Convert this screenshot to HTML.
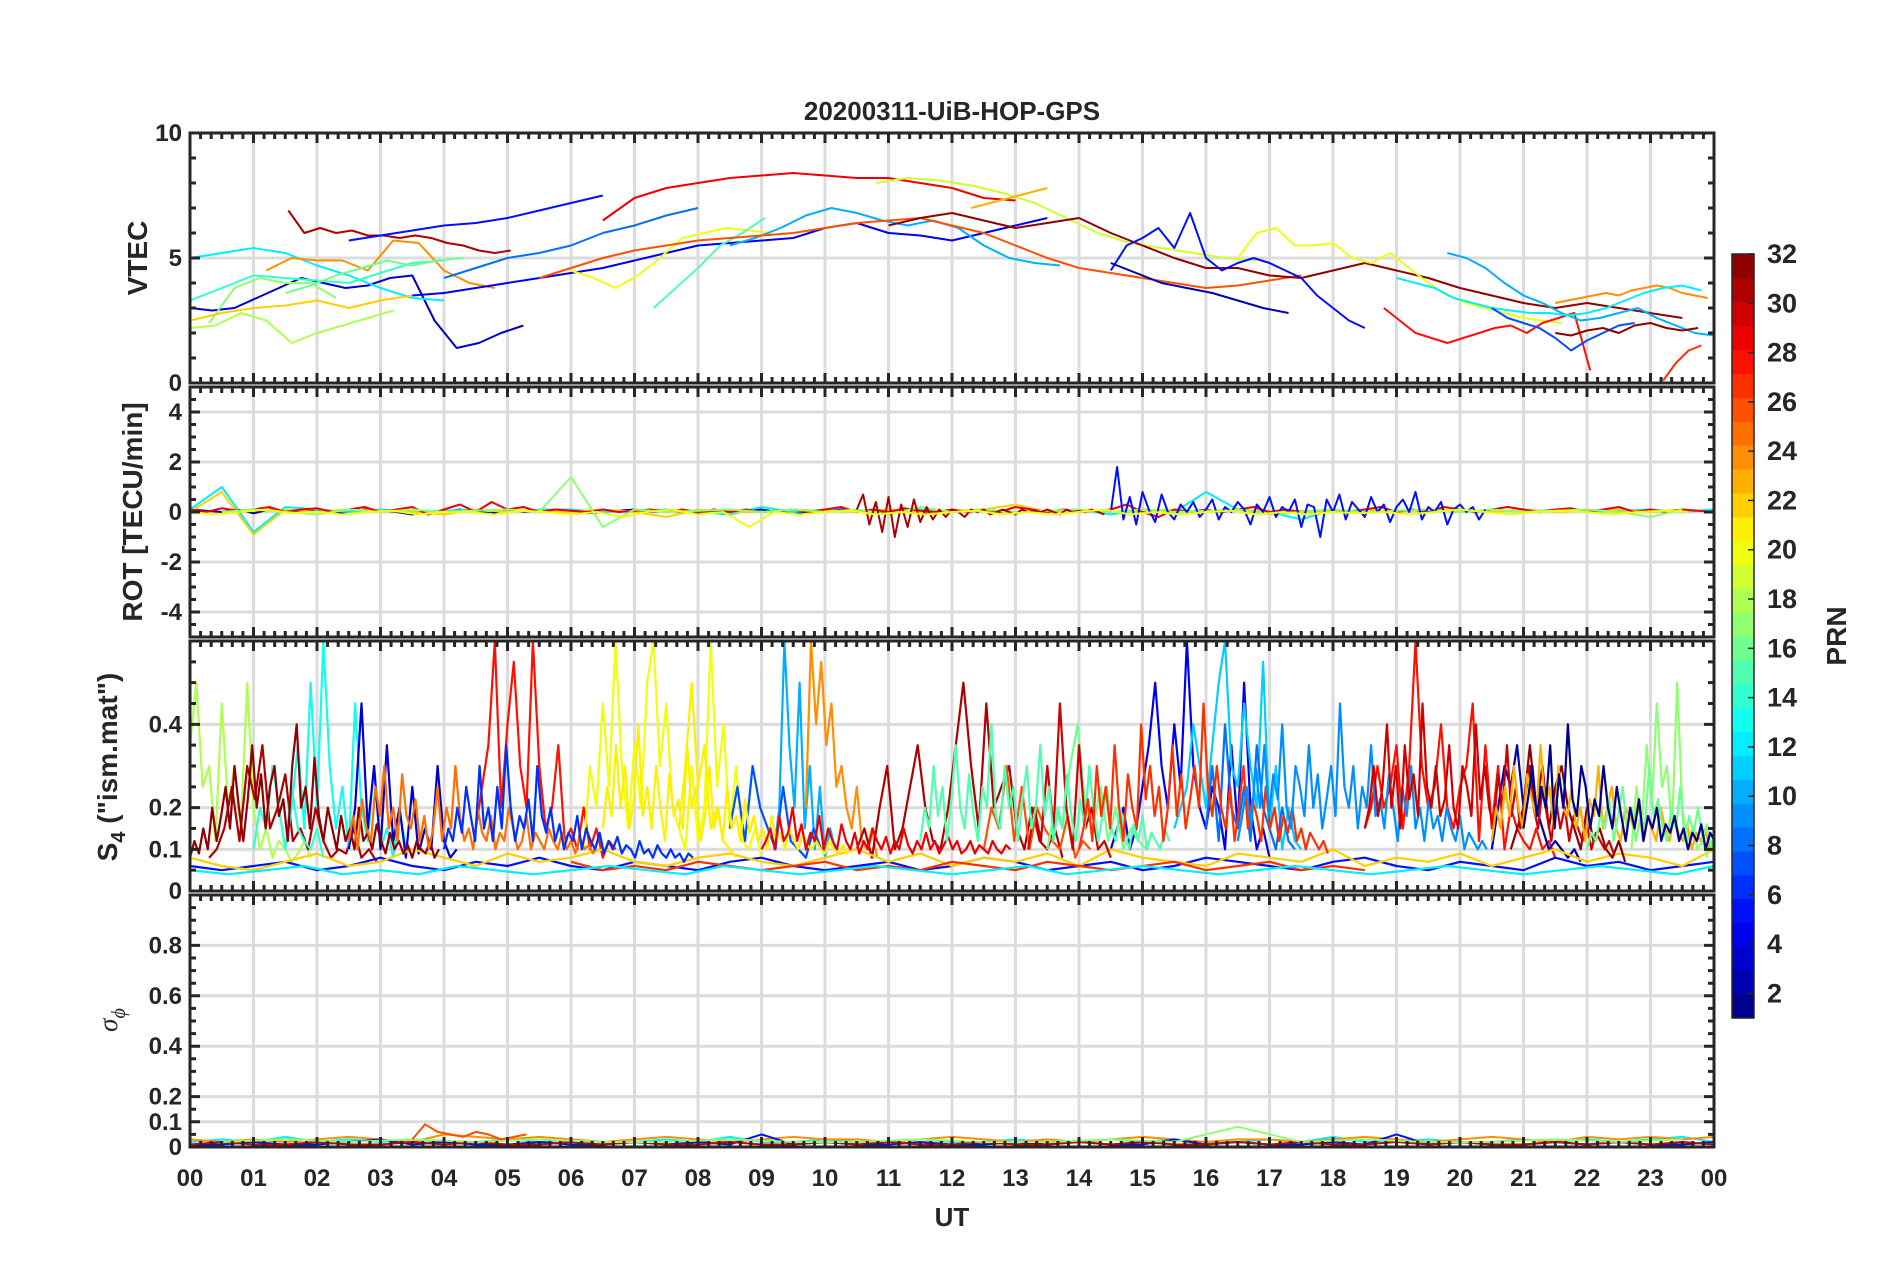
<!DOCTYPE html>
<html><head><meta charset="utf-8"><style>
body{margin:0;background:#fff}
svg{display:block;font-family:"Liberation Sans",sans-serif}
</style></head><body>
<svg id="fig" width="1902" height="1272" viewBox="0 0 1902 1272">
<text x="952" y="120" text-anchor="middle" font-size="26" font-weight="bold" fill="#262626">20200311-UiB-HOP-GPS</text>
<g id="panels"></g>
<g id="cbar"></g>
<text x="952" y="1226" text-anchor="middle" font-size="26" font-weight="bold" fill="#262626">UT</text>
<text transform="translate(147,258) rotate(-90)" text-anchor="middle" font-size="28" font-weight="bold" fill="#262626">VTEC</text>
<text transform="translate(142,512) rotate(-90)" text-anchor="middle" font-size="28" font-weight="bold" fill="#262626">ROT [TECU/min]</text>
<text transform="translate(117,767) rotate(-90)" text-anchor="middle" font-size="28" font-weight="bold" fill="#262626">S<tspan font-size="20" dy="8">4</tspan><tspan dy="-8"> ("ism.mat")</tspan></text>
<text transform="translate(117,1020) rotate(-90)" text-anchor="middle" font-size="27" font-style="italic" fill="#262626" font-family="Liberation Serif, serif">σ<tspan font-size="20" dy="8">ϕ</tspan></text>
<text transform="translate(1846,636) rotate(-90)" text-anchor="middle" font-size="28" font-weight="bold" fill="#262626">PRN</text>
</svg>
<script>
// ---- data (PRN, start hour, step hours, values) ----
const vtecPrn=[31,5,29,19,23,3,12,14,17,22,18,24,8,4,20,15,10,26,32,5,20,28,10,24,12,7,27,32,2,16];
const vtecT0=[1.55,2.5,6.5,10.8,12.3,0,0,0,0.3,0,0,1.2,4.0,3.5,6.0,7.3,8.5,5.5,11.0,14.5,16.5,18.8,19.8,21.5,19.0,20.5,23.2,21.5,14.5,1.5];
const vtecStep=[0.25,0.5,0.5,0.5,0.3,0.35,0.5,0.5,0.4,0.5,0.4,0.4,0.5,0.5,0.35,0.35,0.4,0.5,0.5,0.25,0.3,0.25,0.3,0.2,0.3,0.25,0.2,0.25,0.4,0.4];
const vtecVals=[
[6.9,6.0,6.2,6.0,6.1,5.9,5.9,5.8,5.9,5.8,5.6,5.5,5.3,5.2,5.3],
[5.7,5.9,6.1,6.3,6.4,6.6,6.9,7.2,7.5],
[6.5,7.4,7.8,8.0,8.2,8.3,8.4,8.3,8.2,8.2,8.0,7.8,7.4,7.3],
[8.0,8.2,8.1,7.9,7.6,7.2,6.6,6.0,5.6,5.4,5.2,5.0,4.9],
[7.0,7.2,7.4,7.6,7.8],
[3.0,2.9,3.0,3.4,3.8,4.2,4.0,3.8,3.9,4.2,4.3,2.5,1.4,1.6,2.0,2.3],
[5.0,5.2,5.4,5.2,4.7,4.3,3.8,3.4,3.3],
[3.3,3.8,4.3,4.2,4.1,4.0,4.4,4.8,4.9],
[2.4,3.8,4.2,4.0,4.0,3.4],
[2.5,2.8,3.0,3.1,3.3,3.0,3.3,3.5],
[2.2,2.3,2.8,2.5,1.6,2.0,2.3,2.6,2.9],
[4.5,5.0,4.9,4.9,4.5,5.7,5.6,4.5,4.0,3.8],
[4.2,4.6,5.0,5.2,5.5,6.0,6.3,6.7,7.0],
[3.5,3.6,3.8,4.0,4.2,4.4,4.6,4.9,5.2,5.5,5.6,5.7,5.8,6.2,6.4,6.0,5.9,5.7,6.0,6.3,6.6],
[4.5,4.2,3.8,4.3,5.0,5.8,6.0,6.2,6.1,6.0],
[3.0,3.8,4.6,5.5,6.0,6.6],
[5.5,5.8,6.2,6.7,7.0,6.8,6.5,6.3,6.5,6.2,5.5,5.0,4.8,4.7],
[4.2,4.6,5.0,5.3,5.5,5.7,5.8,5.9,6.0,6.2,6.4,6.5,6.6,6.3,6.0,5.5,5.0,4.6,4.4,4.2,4.0,3.8,3.9,4.1,4.3],
[6.3,6.6,6.8,6.5,6.2,6.4,6.6,6.0,5.5,5.0,4.6,4.6,4.3,4.2,4.5,4.8,4.5,4.2,3.8,3.5,3.2,3.0,3.2,3.0,2.8,2.6],
[4.5,5.5,5.8,6.2,5.4,6.8,5.0,4.5,4.8,5.0,4.8,4.5,4.2,3.5,3.0,2.5,2.2],
[5.0,6.0,6.2,5.5,5.5,5.6,5.0,4.8,5.2,4.6,4.0,3.5,3.2,3.0,2.8,2.6,2.5,2.4],
[3.0,2.5,2.0,1.8,1.6,1.8,2.0,2.2,2.3,2.0,2.4,2.6,2.8,0.5],
[5.2,5.0,4.6,4.0,3.5,3.2,2.8,2.5,2.6,2.8,3.0,2.6,2.3,2.0,1.9,1.8,2.2],
[3.2,3.3,3.4,3.5,3.6,3.5,3.7,3.8,3.9,3.8,3.6,3.5,3.4],
[4.2,4.0,3.8,3.4,3.2,3.0,2.9,2.8,2.8,2.7,2.8,3.0,3.3,3.6,3.8,3.9,3.7],
[3.0,2.6,2.4,2.2,1.8,1.3,1.7,2.0,2.3,2.4],
[0.1,0.8,1.3,1.5],
[2.0,1.9,2.1,2.2,2.0,2.3,2.4,2.2,2.1,2.2],
[4.8,4.4,4.0,3.8,3.6,3.3,3.0,2.8],
[3.6,3.9,4.3,4.6,4.9,4.7,4.9,5.0]
];
const rotPrn=[2,12,22,29,17,31,5,20];
const rotT0=[0,0,0,0,0.5,10.5,14.5,0];
const rotStep=[0.25,0.5,0.5,0.25,0.5,0.1,0.1,0.4];
const rotVals=[
[0.1,0.05,0.0,0.1,-0.05,0.1,0.0,0.05,0.1,-0.05,0.0,0.1,0.05,0.0,-0.1,0.05,0.0,0.1,0.0,-0.05,0.1,0.0,0.05,0.0,0.1,-0.05,0.0,0.05,0.1,0.0,0.05,0.0,-0.05,0.1,0.0,0.05,0.1,0.0,-0.05,0.0,0.05,0.1,0.0,0.05,0.0,0.1,-0.05,0.05,0.0],
[0.1,1.0,-0.8,0.2,0.1,0.0,0.1,0.0,0.05,0.1,0.0,0.1,0.1,0.0,0.05,0.1,0.0,-0.1,0.2,0.0,0.1,0.0,0.05,0.1,0.0,0.1,0.0,0.05,0.1,-0.1,0.1,0.0,0.8,0.1,0.0,-0.3,0.1,0.0,0.05,0.1,0.0,0.1,0.0,0.1,0.0,0.05,0.1,0.0,0.1],
[0.0,0.8,-0.9,0.1,0.0,0.1,0.05,0.0,-0.1,0.1,0.0,0.05,0.0,0.1,0.0,-0.2,0.1,0.0,0.0,0.1,0.05,0.0,0.1,0.0,0.05,0.1,0.3,0.0,0.1,0.0,0.05,0.1,0.0,0.1,0.0,0.05,0.0,0.1,0.0,0.1,0.05,0.0,0.1,0.0,0.05,0.1,0.0,0.1,0.0],
[0.1,0.0,0.15,0.05,0.1,0.2,0.0,0.1,0.15,0.0,0.1,0.2,0.0,0.1,0.2,-0.1,0.1,0.3,0.0,0.4,0.1,0.2,0.0,0.1,0.05,0.0,0.1,0.0,0.05,0.1,0.0,0.1,0.0,0.05,0.0,0.1,0.0,0.05,0.1,0.0,0.1,0.2,0.0,0.1,0.0,0.15,0.05,0.0,0.1,0.0,0.1,0.0,0.2,0.1,0.0,0.1,0.0,0.05,0.1,0.3,0.0,-0.2,0.1,0.0,0.1,0.0,0.1,0.2,0.0,0.1,0.0,0.05,0.1,0.0,0.1,0.2,0.0,0.1,0.0,0.2,0.1,0.0,0.1,0.2,0.1,0.0,0.1,0.15,0.0,0.1,0.2,0.0,0.1,0.0,0.1,0.05,0.0],
[0.0,0.1,0.0,-0.1,0.1,0.0,0.1,0.0,0.05,0.1,0.0,1.4,-0.6,0.1,0.0,0.05,0.1,0.0,0.1,0.0,0.1,-0.1,0.2,0.0,0.1,0.0,0.05,0.1,0.0,0.1,0.0,0.05,0.1,-0.1,0.0,0.1,0.0,0.05,0.1,0.0,0.1,0.0,0.05,0.1,0.0,-0.2,0.1],
[0.1,0.7,-0.5,0.4,-0.8,0.6,-1.0,0.3,-0.6,0.5,-0.4,0.2,-0.3,0.1,-0.2,0.1,0.0,-0.2,0.1,0.0,0.1,-0.1,0.0,0.1,0.0,-0.1,0.1,0.0,0.05,0.0,0.1,0.0,-0.1,0.1,0.0,0.05,0.0,0.1,0.0,-0.1],
[0.0,1.8,-0.3,0.6,-0.5,0.8,0.1,-0.4,0.7,0.0,-0.3,0.3,0.0,0.4,-0.2,0.1,0.5,-0.3,0.2,0.0,0.4,0.1,-0.5,0.3,0.0,0.6,-0.2,0.2,0.0,0.5,-0.6,0.3,0.2,-1.0,0.5,0.0,0.7,-0.3,0.4,0.1,-0.2,0.6,0.0,0.3,-0.4,0.2,0.5,0.0,0.8,-0.3,0.2,0.0,0.4,-0.5,0.1,0.3,0.0,0.2,-0.3,0.1],
[0.0,-0.1,0.0,0.1,-0.05,0.0,-0.1,0.0,0.05,-0.1,0.0,0.0,-0.1,0.05,0.0,-0.1,0.0,-0.2,0.0,0.1,-0.1,0.0,-0.6,0.0,-0.1,0.0,0.05,-0.1,0.0,-0.1,0.0,0.05,-0.1,0.0,-0.1,0.0,0.1,-0.1,0.0,-0.1,0.0,0.05,-0.1,0.0,-0.1,0.0,-0.05,0.0,-0.1,0.0,0.1,0.0,-0.1,0.0,0.05,0.0,-0.1,0.0,0.05,0.0]
];
const s4Prn=[18,31,13,3,28,20,10,24,31,4,11,28,2,5,22,27,12,26,7,16,32,30,8,17,21,14, 32,25,6,21,29,15,27,9,30,23,16,1];
const s4T0=[0,0.3,1.5,2.5,4.5,6.2,9.2,9.7,10.5,14.5,15.5,18.5,20.5,0,0,6,0,12.5,8.5,13.5,20.8,13.2,16.0,22.7,7.7,1.0, 0,2.5,4.0,6.5,9.0,11.5,14.0,16.5,18.5,20.5,22.0,21.0];
const s4Step=[0.1,0.12,0.1,0.1,0.1,0.1,0.08,0.08,0.12,0.1,0.1,0.1,0.1,0.5,0.5,0.5,0.6,0.12,0.12,0.12,0.1,0.1,0.1,0.08,0.1,0.1, 0.07,0.07,0.07,0.07,0.07,0.07,0.07,0.07,0.07,0.07,0.07,0.07];
const s4Vals=[
[0.35,0.5,0.25,0.3,0.12,0.45,0.2,0.3,0.15,0.5,0.2,0.1,0.15,0.08,0.12,0.1,0.07,0.09,0.12,0.08],
[0.08,0.1,0.15,0.25,0.12,0.3,0.22,0.35,0.15,0.2,0.28,0.12,0.15,0.1,0.2,0.12,0.08,0.1,0.09,0.15,0.08,0.1,0.07],
[0.1,0.2,0.35,0.15,0.5,0.2,0.6,0.3,0.15,0.25,0.1,0.45,0.2,0.12,0.3,0.1,0.15,0.08,0.2,0.1],
[0.1,0.2,0.45,0.15,0.3,0.1,0.35,0.12,0.2,0.08,0.25,0.09,0.15,0.1,0.3,0.12,0.08,0.1],
[0.15,0.25,0.35,0.6,0.2,0.4,0.55,0.3,0.2,0.6,0.3,0.15,0.2,0.35,0.12,0.15,0.1,0.2,0.1,0.15,0.08,0.12,0.1],
[0.1,0.3,0.2,0.45,0.25,0.6,0.3,0.15,0.35,0.2,0.5,0.6,0.3,0.45,0.2,0.15,0.1,0.3,0.12,0.2,0.6,0.25,0.4,0.15,0.3,0.12,0.1,0.15,0.08],
[0.1,0.2,0.6,0.35,0.2,0.5,0.15,0.3,0.1,0.25,0.08,0.15,0.1],
[0.2,0.6,0.4,0.55,0.35,0.45,0.25,0.3,0.2,0.15,0.25,0.12,0.1,0.15,0.08],
[0.1,0.15,0.08,0.2,0.3,0.1,0.15,0.25,0.35,0.2,0.12,0.1,0.2,0.35,0.5,0.3,0.15,0.45,0.2,0.25,0.3,0.15,0.1,0.2,0.12,0.1,0.15,0.08],
[0.1,0.15,0.2,0.1,0.15,0.25,0.35,0.5,0.3,0.2,0.4,0.25,0.6,0.3,0.2,0.15,0.25,0.2,0.1,0.35,0.15,0.5,0.2,0.1,0.15,0.08],
[0.15,0.2,0.25,0.4,0.3,0.2,0.35,0.5,0.6,0.3,0.25,0.45,0.3,0.2,0.55,0.15,0.3,0.1,0.2,0.12,0.1],
[0.15,0.2,0.3,0.2,0.25,0.35,0.15,0.3,0.6,0.3,0.2,0.25,0.4,0.2,0.15,0.25,0.3,0.45,0.12,0.35,0.15,0.3,0.1,0.2,0.15,0.12,0.1,0.15,0.1,0.12,0.08],
[0.1,0.2,0.3,0.25,0.35,0.2,0.3,0.2,0.15,0.1,0.12,0.1,0.08,0.1,0.07],
[0.06,0.05,0.06,0.07,0.05,0.06,0.08,0.06,0.05,0.07,0.06,0.08,0.06,0.05,0.07,0.06,0.05,0.07,0.08,0.06,0.05,0.06,0.07,0.05,0.06,0.08,0.07,0.05,0.06,0.07,0.05,0.06,0.08,0.07,0.06,0.05,0.07,0.08,0.06,0.05,0.07,0.06,0.05,0.08,0.06,0.07,0.05,0.06,0.07],
[0.08,0.06,0.05,0.07,0.09,0.06,0.07,0.1,0.08,0.06,0.09,0.07,0.08,0.1,0.07,0.06,0.08,0.09,0.07,0.06,0.08,0.1,0.07,0.09,0.06,0.08,0.07,0.09,0.06,0.1,0.08,0.07,0.06,0.09,0.08,0.07,0.1,0.06,0.08,0.07,0.09,0.06,0.08,0.1,0.07,0.09,0.08,0.06,0.1],
[0.07,0.05,0.06,0.05,0.07,0.06,0.05,0.06,0.07,0.05,0.06,0.05,0.07,0.06,0.05,0.07,0.06,0.05,0.06,0.07,0.05,0.06,0.07,0.05,0.06,0.05],
[0.05,0.04,0.05,0.06,0.04,0.05,0.04,0.06,0.05,0.04,0.05,0.06,0.05,0.04,0.06,0.05,0.04,0.05,0.06,0.05,0.04,0.05,0.06,0.04,0.05,0.06,0.05,0.04,0.05,0.06,0.05,0.04,0.05,0.06,0.05,0.04,0.05,0.06,0.05,0.04,0.06],
[0.1,0.2,0.15,0.3,0.12,0.25,0.1,0.2,0.15,0.12,0.1,0.18,0.08,0.12,0.1],
[0.15,0.25,0.12,0.3,0.2,0.15,0.1,0.25,0.12,0.1,0.08,0.15,0.1],
[0.1,0.2,0.15,0.3,0.4,0.2,0.15,0.25,0.12,0.2,0.1,0.15,0.12,0.1],
[0.1,0.15,0.2,0.35,0.2,0.3,0.15,0.25,0.3,0.2,0.15,0.1,0.2,0.12,0.15,0.1,0.08,0.12,0.07],
[0.1,0.2,0.12,0.3,0.15,0.45,0.2,0.1,0.35,0.15,0.2,0.1,0.12,0.08],
[0.15,0.3,0.12,0.4,0.2,0.15,0.25,0.12,0.35,0.2,0.15,0.1,0.2,0.12,0.1],
[0.1,0.25,0.15,0.35,0.2,0.45,0.25,0.3,0.15,0.5,0.2,0.12,0.15,0.1,0.12,0.08],
[0.15,0.3,0.5,0.25,0.35,0.15,0.2,0.12,0.1,0.08],
[0.1,0.2,0.15,0.3,0.2,0.1,0.25,0.15,0.12,0.1,0.15,0.08],
[0.08,0.12,0.09,0.15,0.1,0.2,0.12,0.18,0.25,0.15,0.3,0.2,0.12,0.22,0.35,0.2,0.28,0.15,0.25,0.3,0.18,0.22,0.12,0.3,0.4,0.2,0.25,0.15,0.32,0.18,0.12,0.2,0.15,0.1,0.18,0.12,0.15,0.1,0.2,0.12,0.14,0.1,0.16,0.12,0.09,0.14,0.1,0.12,0.09,0.11,0.08,0.12,0.1,0.09,0.12,0.08,0.1],
[0.12,0.18,0.1,0.22,0.15,0.12,0.25,0.18,0.3,0.15,0.2,0.12,0.28,0.18,0.15,0.22,0.12,0.18,0.1,0.15,0.25,0.12,0.2,0.15,0.3,0.18,0.12,0.15,0.1,0.2,0.14,0.12,0.18,0.1,0.14,0.12,0.2,0.15,0.1,0.12,0.18,0.1,0.14,0.12,0.1,0.15,0.12,0.1,0.14,0.1,0.12,0.09,0.13,0.1,0.11,0.09,0.12],
[0.1,0.15,0.12,0.2,0.14,0.25,0.18,0.12,0.3,0.15,0.2,0.12,0.25,0.15,0.35,0.2,0.12,0.18,0.15,0.22,0.12,0.3,0.18,0.14,0.2,0.12,0.16,0.1,0.14,0.12,0.18,0.1,0.15,0.12,0.1,0.14,0.09,0.12,0.1,0.13,0.09,0.11,0.1,0.08,0.12,0.09,0.1,0.08,0.11,0.09,0.08,0.1,0.08,0.09,0.07,0.09,0.08],
[0.15,0.25,0.18,0.35,0.2,0.3,0.15,0.22,0.4,0.18,0.25,0.15,0.3,0.2,0.12,0.28,0.18,0.22,0.15,0.35,0.2,0.25,0.12,0.18,0.3,0.15,0.2,0.12,0.25,0.15,0.18,0.12,0.22,0.14,0.18,0.12,0.15,0.1,0.18,0.12,0.14,0.1,0.15,0.12,0.1,0.14,0.11,0.1,0.12,0.1,0.09,0.12,0.1,0.09,0.11,0.09,0.1],
[0.1,0.12,0.15,0.1,0.18,0.12,0.14,0.2,0.12,0.16,0.1,0.14,0.12,0.18,0.1,0.15,0.12,0.1,0.16,0.12,0.1,0.14,0.09,0.12,0.1,0.15,0.12,0.1,0.13,0.09,0.12,0.1,0.15,0.11,0.09,0.12,0.1,0.14,0.1,0.12,0.09,0.11,0.13,0.1,0.12,0.09,0.1,0.12,0.09,0.11,0.1,0.09,0.12,0.1,0.09,0.11,0.1],
[0.12,0.2,0.15,0.3,0.18,0.25,0.12,0.22,0.35,0.2,0.15,0.28,0.18,0.12,0.25,0.2,0.4,0.18,0.15,0.3,0.2,0.25,0.12,0.22,0.3,0.15,0.2,0.35,0.18,0.25,0.12,0.2,0.15,0.28,0.18,0.12,0.22,0.15,0.3,0.2,0.12,0.18,0.25,0.15,0.12,0.2,0.14,0.1,0.16,0.12,0.18,0.1,0.14,0.12,0.1,0.15,0.12],
[0.1,0.15,0.22,0.12,0.3,0.18,0.25,0.15,0.35,0.2,0.12,0.28,0.2,0.15,0.4,0.22,0.3,0.18,0.25,0.12,0.2,0.35,0.18,0.28,0.15,0.22,0.3,0.2,0.45,0.25,0.18,0.3,0.2,0.15,0.25,0.12,0.2,0.3,0.15,0.22,0.18,0.12,0.25,0.15,0.2,0.12,0.18,0.14,0.2,0.12,0.15,0.1,0.14,0.12,0.1,0.12,0.09],
[0.12,0.18,0.25,0.15,0.3,0.2,0.35,0.18,0.28,0.22,0.4,0.2,0.15,0.3,0.25,0.18,0.35,0.2,0.28,0.15,0.22,0.3,0.18,0.45,0.25,0.2,0.3,0.15,0.25,0.2,0.35,0.18,0.22,0.15,0.28,0.2,0.12,0.25,0.18,0.3,0.15,0.2,0.12,0.22,0.15,0.18,0.12,0.2,0.15,0.12,0.18,0.1,0.14,0.12,0.1,0.12,0.1],
[0.15,0.2,0.3,0.18,0.25,0.4,0.2,0.3,0.15,0.35,0.22,0.28,0.18,0.45,0.25,0.2,0.3,0.18,0.22,0.35,0.2,0.15,0.3,0.25,0.18,0.4,0.22,0.3,0.2,0.15,0.28,0.2,0.35,0.18,0.25,0.15,0.22,0.3,0.2,0.15,0.25,0.18,0.12,0.22,0.15,0.2,0.12,0.18,0.15,0.12,0.16,0.1,0.14,0.12,0.1,0.12,0.09],
[0.12,0.2,0.15,0.25,0.18,0.3,0.2,0.15,0.28,0.22,0.18,0.35,0.2,0.25,0.15,0.3,0.2,0.18,0.25,0.15,0.2,0.12,0.22,0.18,0.3,0.15,0.2,0.25,0.15,0.12,0.2,0.18,0.15,0.22,0.12,0.18,0.15,0.12,0.2,0.15,0.12,0.18,0.14,0.12,0.16,0.1,0.14,0.12,0.15,0.1,0.13,0.11,0.14,0.1,0.12,0.1,0.11],
[0.1,0.14,0.12,0.18,0.15,0.22,0.12,0.18,0.25,0.15,0.2,0.12,0.18,0.15,0.3,0.18,0.22,0.15,0.12,0.2,0.15,0.25,0.12,0.18,0.14,0.2,0.12,0.16,0.1,0.15,0.12,0.18,0.1,0.14,0.12,0.1,0.16,0.12,0.14,0.1,0.12,0.1,0.15,0.12,0.1,0.14,0.1,0.12,0.1,0.13,0.1,0.12,0.09,0.11,0.1,0.12,0.1],
[0.15,0.22,0.3,0.18,0.25,0.2,0.35,0.15,0.28,0.2,0.4,0.22,0.18,0.3,0.25,0.15,0.22,0.18,0.3,0.2,0.15,0.25,0.18,0.12,0.2,0.15,0.22,0.12,0.18,0.15,0.2,0.12,0.16,0.14,0.18,0.12,0.15,0.1,0.14,0.12,0.16,0.1,0.14,0.12,0.1,0.15,0.12,0.1,0.14,0.12,0.1,0.12,0.14,0.1,0.13,0.11,0.12],
[0.2,0.3,0.25,0.4,0.3,0.22,0.35,0.25,0.45,0.3,0.2,0.35,0.28,0.22,0.3,0.18,0.25,0.2,0.15,0.22,0.18,0.15,0.2,0.12,0.18,0.15,0.12,0.16,0.12,0.1,0.14,0.12,0.1,0.12,0.09,0.11,0.1,0.08,0.1,0.09,0.08,0.1,0.08,0.09,0.07,0.08,0.07,0.08]
];
const sigPrn=[12,24,5,30,17,26];
const sigT0=[0,0,0,0,0.5,3.5];
const sigStep=[0.5,0.5,0.5,0.5,1,0.2];
const sigVals=[
[0.02,0.03,0.02,0.04,0.02,0.03,0.02,0.03,0.02,0.02,0.03,0.02,0.03,0.02,0.02,0.03,0.02,0.04,0.02,0.02,0.03,0.02,0.02,0.03,0.02,0.02,0.03,0.02,0.02,0.03,0.02,0.03,0.02,0.02,0.03,0.02,0.04,0.02,0.02,0.03,0.02,0.02,0.03,0.02,0.03,0.02,0.03,0.04,0.02],
[0.03,0.02,0.03,0.02,0.03,0.04,0.03,0.02,0.05,0.04,0.03,0.04,0.03,0.02,0.03,0.04,0.03,0.02,0.03,0.04,0.03,0.03,0.02,0.03,0.04,0.03,0.02,0.03,0.02,0.03,0.04,0.03,0.02,0.03,0.03,0.02,0.03,0.04,0.03,0.02,0.03,0.04,0.03,0.02,0.04,0.03,0.04,0.03,0.04],
[0.01,0.01,0.02,0.01,0.01,0.02,0.03,0.01,0.02,0.01,0.01,0.02,0.01,0.01,0.02,0.01,0.02,0.01,0.05,0.01,0.02,0.01,0.01,0.02,0.01,0.01,0.02,0.01,0.02,0.01,0.01,0.03,0.01,0.02,0.01,0.01,0.02,0.01,0.05,0.01,0.02,0.01,0.01,0.02,0.01,0.02,0.01,0.01,0.02],
[0.01,0.02,0.01,0.01,0.02,0.01,0.01,0.02,0.01,0.02,0.01,0.01,0.02,0.01,0.02,0.01,0.01,0.02,0.01,0.01,0.02,0.01,0.02,0.01,0.01,0.02,0.01,0.01,0.02,0.01,0.02,0.01,0.01,0.02,0.01,0.02,0.01,0.01,0.02,0.01,0.02,0.01,0.01,0.02,0.01,0.02,0.01,0.02,0.01],
[0.02,0.03,0.02,0.03,0.02,0.03,0.02,0.02,0.03,0.02,0.02,0.03,0.02,0.02,0.03,0.02,0.08,0.02,0.03,0.02,0.02,0.03,0.02,0.03],
[0.03,0.09,0.06,0.05,0.04,0.06,0.05,0.03,0.04,0.05]
];
const xTicks=['00','01','02','03','04','05','06','07','08','09','10','11','12','13','14','15','16','17','18','19','20','21','22','23','00'];
const cbTicks=[2,4,6,8,10,12,14,16,18,20,22,24,26,28,30,32];

// ---- helpers ----
const NS='http://www.w3.org/2000/svg';
const svg=document.getElementById('fig');
const L=190,R=1714;
function mk(tag,attrs,parent){const e=document.createElementNS(NS,tag);for(const k in attrs)e.setAttribute(k,attrs[k]);parent.appendChild(e);return e;}
function jet(v){const c=x=>Math.max(0,Math.min(1,x));return 'rgb('+Math.round(255*c(1.5-Math.abs(4*v-3)))+','+Math.round(255*c(1.5-Math.abs(4*v-2)))+','+Math.round(255*c(1.5-Math.abs(4*v-1)))+')';}
function prnColor(p){return jet((p-0.5)/32);}
const xs=h=>L+(R-L)*h/24;
const panels=[
 {name:'vtec',top:133,bot:383,min:0,max:10,ticks:[0,5,10],labels:['0','5','10'],minor:1,prn:vtecPrn,t0:vtecT0,step:vtecStep,vals:vtecVals,w:2},
 {name:'rot',top:387,bot:637,min:-5,max:5,ticks:[-4,-2,0,2,4],labels:['-4','-2','0','2','4'],minor:0.5,prn:rotPrn,t0:rotT0,step:rotStep,vals:rotVals,w:2},
 {name:'s4',top:641,bot:891,min:0,max:0.6,ticks:[0,0.1,0.2,0.4],labels:['0','0.1','0.2','0.4'],minor:0.05,prn:s4Prn,t0:s4T0,step:s4Step,vals:s4Vals,w:2.2},
 {name:'sigma',top:895,bot:1147,min:0,max:1,ticks:[0,0.1,0.2,0.4,0.6,0.8],labels:['0','0.1','0.2','0.4','0.6','0.8'],minor:0.05,prn:sigPrn,t0:sigT0,step:sigStep,vals:sigVals,w:2}
];
const G=document.getElementById('panels');
panels.forEach((p,pi)=>{
 const g=mk('g',{},G);
 
 
 const ys=v=>p.bot-(p.bot-p.top)*(v-p.min)/(p.max-p.min);
 for(let h=1;h<24;h++){const gl=mk('line',{x1:xs(h),x2:xs(h),y1:p.top,y2:p.bot,stroke:'#dcdcdc','stroke-width':3},g);}
 p.ticks.forEach(t=>{if(t>p.min&&t<p.max){const gl=mk('line',{x1:L,x2:R,y1:ys(t),y2:ys(t),stroke:'#dcdcdc','stroke-width':3},g);}});
 const sg=mk('g',{'clip-path':'url(#clip'+pi+')'},g);
 const cp=mk('clipPath',{id:'clip'+pi},g);mk('rect',{x:L,y:p.top,width:R-L,height:p.bot-p.top},cp);
 p.vals.forEach((arr,i)=>{
  const pts=arr.map((v,k)=>xs(p.t0[i]+k*p.step[i]).toFixed(1)+','+ys(v).toFixed(1)).join(' ');
  const pl=mk('polyline',{points:pts,fill:'none',stroke:prnColor(p.prn[i]),'stroke-width':p.w,'stroke-linejoin':'round'},sg);
  
  
 });
 const bx=mk('rect',{x:L,y:p.top,width:R-L,height:p.bot-p.top,fill:'none',stroke:'#262626','stroke-width':3},g);
 
 
 let d='';
 for(let m=0;m<=144;m++){const x=xs(m/6);const len=m%6===0?10:6;d+='M'+x+' '+p.top+'v'+len+'M'+x+' '+p.bot+'v'+(-len);}
 const nmin=Math.round((p.max-p.min)/p.minor);
 for(let k=0;k<=nmin;k++){const v=p.min+k*p.minor;const y=ys(v);const major=p.ticks.some(t=>Math.abs(t-v)<1e-6);const len=major?10:6;d+='M'+L+' '+y+'h'+len+'M'+R+' '+y+'h'+(-len);}
 mk('path',{d:d,stroke:'#262626','stroke-width':3,fill:'none'},g);
 p.ticks.forEach((t,k)=>{const tx=mk('text',{x:L-8,y:ys(t)+8,'text-anchor':'end','font-size':24,'font-weight':'bold',fill:'#262626'},g);tx.textContent=p.labels[k];
  
  });
 if(p.name==='vtec'){const tx=mk('text',{x:L-8,y:p.top+8,'text-anchor':'end','font-size':24,'font-weight':'bold',fill:'#262626'},g);tx.textContent='10';
  
  }
});
xTicks.forEach((lab,i)=>{const t=mk('text',{x:xs(i),y:1186,'text-anchor':'middle','font-size':24,'font-weight':'bold',fill:'#262626'},svg);t.textContent=lab;
 
 });
const CB=document.getElementById('cbar');const cT=254,cB=1018,cL=1732,cW=22;
for(let i=0;i<32;i++){const h=(cB-cT)/32;mk('rect',{x:cL,y:cB-(i+1)*h,width:cW,height:h+0.6,fill:jet((i+0.5)/32)},CB);}
mk('rect',{x:cL,y:cT,width:cW,height:cB-cT,fill:'none',stroke:'#262626','stroke-width':1.5},CB);
cbTicks.forEach(v=>{const y=cB-(cB-cT)*(v-1)/31;mk('line',{x1:cL+cW-6,x2:cL+cW,y1:y,y2:y,stroke:'#262626','stroke-width':1.5},CB);
 const t=mk('text',{x:cL+cW+13,y:y+9,'font-size':27,'font-weight':'bold',fill:'#262626'},CB);t.textContent=v;
 
 });
</script>
</body></html>
